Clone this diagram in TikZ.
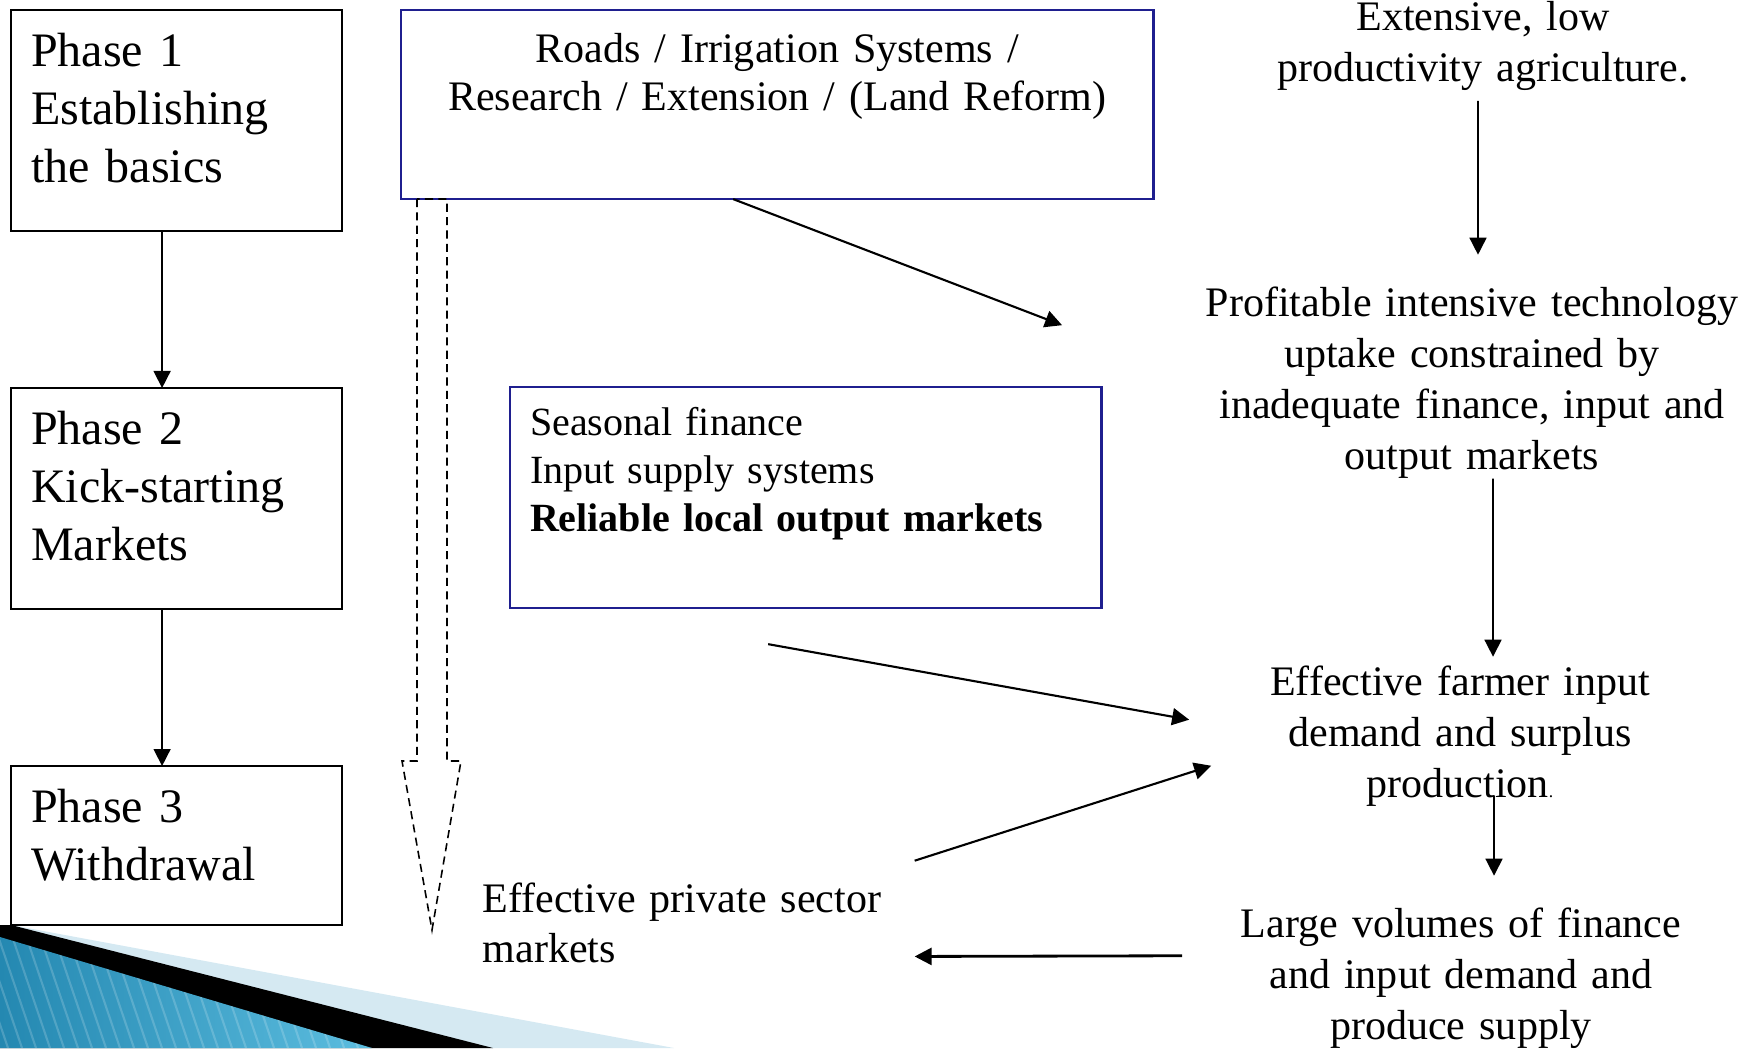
\documentclass[tikz,border=0pt]{standalone}
\usepackage{fontspec}
\setmainfont{Liberation Serif}
\usetikzlibrary{arrows.meta}
\definecolor{navy}{HTML}{1F1F8F}
\definecolor{paleblue}{HTML}{D5E9F2}
\definecolor{slideblue}{HTML}{2488B1}
\definecolor{slidelight}{HTML}{5DBEE0}
\tikzset{
  phase/.style={draw=black, line width=0.7pt, inner xsep=0.2cm, inner ysep=0pt, outer sep=0pt,
    text width=2.91cm, align=left, anchor=north west, text height=0.56cm,
    font={\fontsize{13.66pt}{16.5pt}\selectfont}},
  infobox/.style={draw=navy, line width=0.7pt, inner ysep=0pt, outer sep=0pt, anchor=north west},
  rtext/.style={inner sep=0pt, align=center, anchor=base,
    font={\fontsize{11.95pt}{14.51pt}\selectfont}},
  arr/.style={-{Triangle[length=0.17cm,width=0.17cm]}, line width=0.6pt},
  arrthin/.style={arr, line width=0.45pt},
  dashblock/.style={draw=black, dash pattern=on 2.3pt off 1.5pt, line width=0.45pt},
  stripe/.style={draw=white, opacity=0.18, line width=0.6pt},
}
\begin{document}
\begin{tikzpicture}[x=0.01cm, y=-0.01cm]
  \useasboundingbox (0,0) rectangle (1748,1048);
  % slide corner decoration
  \fill[paleblue] (0,925) -- (11,925) -- (674,1048) -- (0,1048) -- cycle;
  \fill[black] (0,925) -- (11,925) -- (493,1048) -- (0,1048) -- cycle;
  \begin{scope}
    \clip (0,937) -- (372,1048) -- (0,1048) -- cycle;
    \shade[left color=slideblue, right color=slidelight] (0,930) rectangle (380,1048);
    \foreach \sx in {-60,-46,...,380}
      \draw[stripe] (\sx,930) -- ++(40,118);
  \end{scope}
  % phases
  \node[phase, text depth=1.65cm] (p1) at (11,10) {Phase 1\\Establishing\\the basics};
  \node[phase, text depth=1.65cm] (p2) at (11,388) {Phase 2\\Kick-starting\\Markets};
  \node[phase, text depth=1.03cm] (p3) at (11,766) {Phase 3\\Withdrawal};
  \draw[arrthin] ([xshift=-0.145cm]p1.south) -- ([xshift=-0.145cm]p2.north);
  \draw[arrthin] ([xshift=-0.145cm]p2.south) -- ([xshift=-0.145cm]p3.north);
  % interventions
  \node[infobox, inner xsep=0pt, text width=7.52cm, align=center, text height=0.52cm, text depth=1.37cm,
    font={\fontsize{11.95pt}{13.66pt}\selectfont}] (roads) at (401,10)
    {Roads / Irrigation Systems /\\Research / Extension / (Land Reform)};
  \node[infobox, inner xsep=0.2cm, text width=5.51cm, align=left, text height=0.48cm, text depth=1.73cm,
    font={\fontsize{11.38pt}{13.66pt}\selectfont}] (seas) at (510,387)
    {Seasonal finance\\Input supply systems\\\textbf{Reliable local output markets}};
  % withdrawal arrow
  \draw[dashblock] (417,199) -- (417,761) -- (402,761) -- (432,930) -- (461,761)
    -- (447,761) -- (447,199) -- cycle;
  % outcomes
  \node[rtext, text width=4.6cm] (ext) at (1483,30) {Extensive, low\\productivity agriculture.};
  \node[rtext, text width=5.6cm] (prof) at (1472,316)
    {Profitable intensive technology\\uptake constrained by\\inadequate finance, input and\\output markets};
  \node[rtext, text width=4.4cm] (farm) at (1460,695)
    {Effective farmer input\\demand and surplus\\production{\fontsize{5pt}{5pt}\selectfont.}};
  \node[rtext, text width=4.8cm] (large) at (1461,937)
    {Large volumes of finance\\and input demand and\\produce supply};
  \node[rtext, text width=4.2cm, align=left, anchor=base west,
    font={\fontsize{11.95pt}{14.23pt}\selectfont}] (priv) at (482,912)
    {Effective private sector\\markets};
  \draw[arrthin] ([xshift=-0.05cm,yshift=-0.10cm]ext.south) -- ([xshift=0.06cm,yshift=0.31cm]prof.north);
  \draw[arrthin] ([xshift=0.21cm]prof.south) -- ([xshift=0.33cm,yshift=0.08cm]farm.north);
  \draw[arrthin] ([xshift=0.34cm,yshift=0.11cm]farm.south) -- ([xshift=0.33cm,yshift=0.31cm]large.north);
  \draw[arr] ([xshift=-0.44cm]roads.south) -- ([xshift=-1.29cm,yshift=0.57cm]prof.west);
  \draw[arr] ([xshift=-0.375cm,yshift=-0.36cm]seas.south) -- ([xshift=-0.50cm,yshift=0.16cm]farm.west);
  \draw[arr] ([xshift=0.11cm,yshift=0.21cm]priv.north east) -- ([xshift=-0.28cm,yshift=-0.30cm]farm.west);
  \draw[arr, line width=0.8pt] ([xshift=-0.38cm,yshift=0.22cm]large.west) -- ([xshift=0.11cm,yshift=-0.34cm]priv.east);
\end{tikzpicture}
\end{document}
